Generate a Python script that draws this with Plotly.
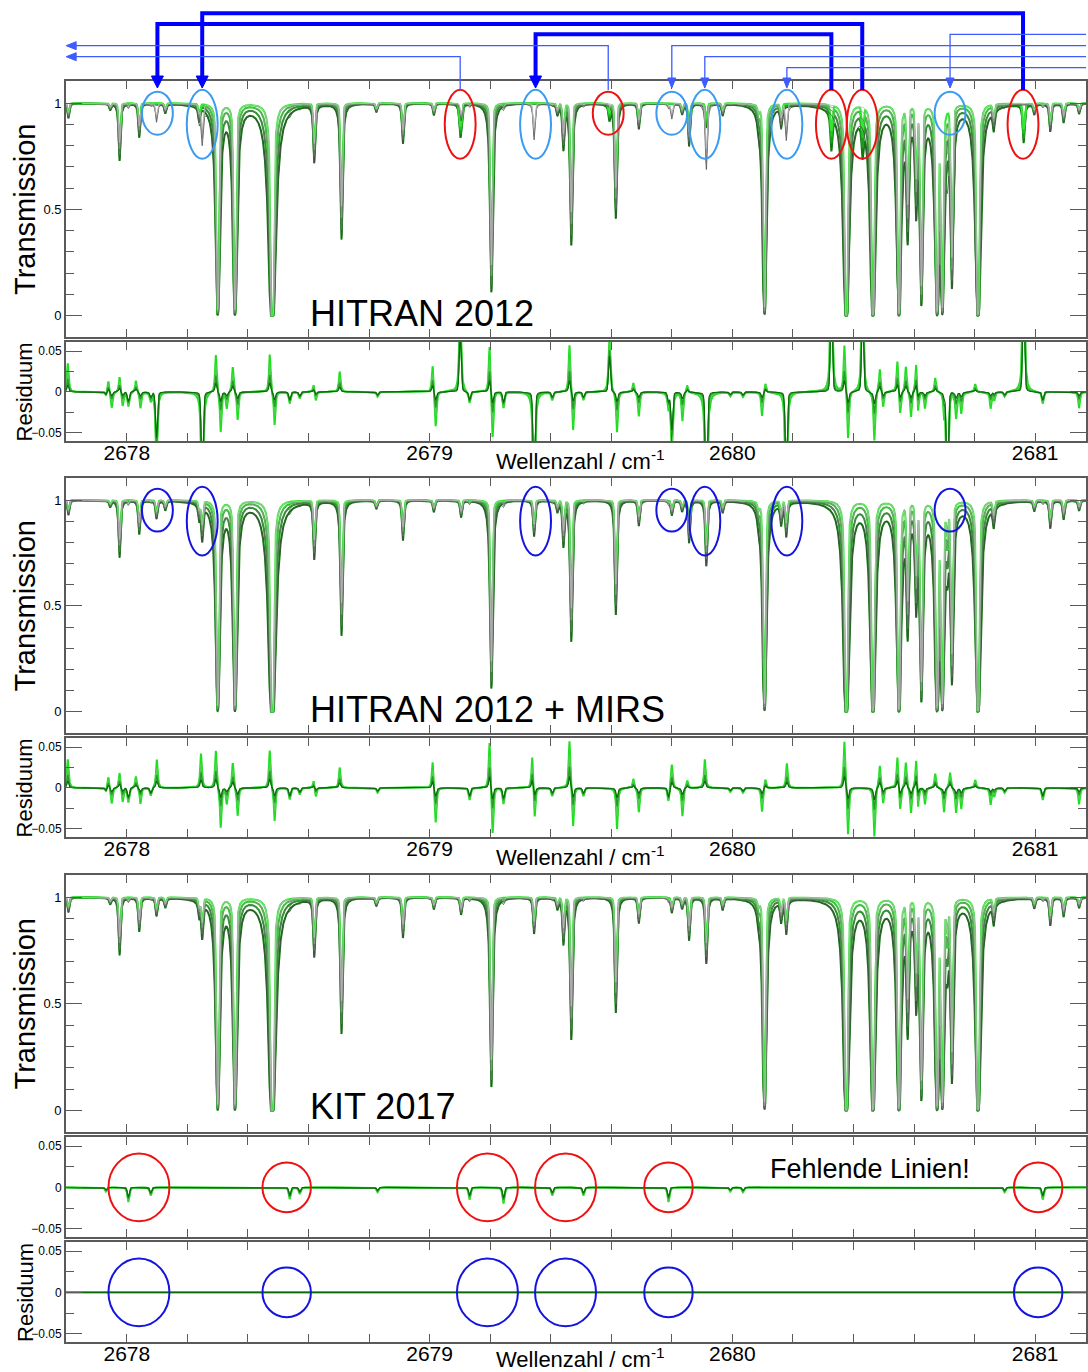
import numpy as np
import plotly.graph_objects as go

W, H = 1088, 1372
FONT = "Liberation Sans, Arial, Helvetica, sans-serif"

# ---------------------------------------------------------------- data
# measured absorption lines: centre / cm-1 and peak optical depth (widest spectrum)
LINE_POS = [2677.807, 2677.945, 2677.976, 2678.041, 2678.098, 2678.127, 2678.239,
            2678.249, 2678.300, 2678.357, 2678.480, 2678.619, 2678.709, 2678.824,
            2678.912, 2679.014, 2679.104, 2679.204, 2679.345, 2679.422, 2679.442,
            2679.468, 2679.615, 2679.691, 2679.800, 2679.834, 2679.857, 2679.914,
            2679.968, 2680.086, 2680.106, 2680.161, 2680.178, 2680.376, 2680.464,
            2680.550, 2680.579, 2680.607, 2680.624, 2680.676, 2680.693, 2680.710,
            2680.725, 2680.811, 2680.863, 2680.997, 2681.050, 2681.094, 2681.145]
LINE_TAU = [0.073, 0.030, 0.315, 0.174, 0.089, 0.046, 0.073,
            0.186, 5.5, 5.5, 17.0, 0.32, 1.02, 0.040,
            0.21, 0.057, 0.083, 2.2, 0.186, 0.050, 0.236,
            1.1, 0.78, 0.128, 0.073, 0.050, 0.223, 0.37,
            0.057, 0.050, 5.0, 0.105, 0.174, 11.0, 9.0,
            7.0, 0.97, 0.64, 3.0, 6.0, 5.0, 0.22,
            1.97, 9.0, 0.105, 0.050, 0.14, 0.094, 0.050]

# weak lines absent from HITRAN 2012, MIRS and KIT 2017
MISSING_POS = [2677.931, 2678.005, 2678.079, 2678.538, 2678.571, 2678.828, 2679.132,
               2679.244, 2679.405, 2679.508, 2679.789, 2679.993, 2680.035, 2680.899,
               2681.025]
MISSING_TAU = [0.005, 0.018, 0.010, 0.015, 0.008, 0.006, 0.015,
               0.020, 0.010, 0.010, 0.018, 0.005, 0.006, 0.006,
               0.015]

# HITRAN 2012 compared with the measurement: optical depth added (+) / lacking (-)
HIT_POS = [2678.098, 2678.249, 2679.345, 2679.800, 2679.914, 2680.178, 2680.710,
           2679.101, 2679.594, 2680.327, 2680.430, 2680.962]
HIT_DTAU = [-0.089, -0.186, -0.186, -0.073, -0.25, -0.174, -0.22,
            0.12, 0.07, 0.20, 0.18, 0.20]

# residual structure of the strong lines left by the HITRAN and MIRS fits
FIT_POS = [2677.805, 2677.939, 2677.950, 2677.976, 2677.986, 2678.030, 2678.045,
           2678.294, 2678.310, 2678.330, 2678.350, 2678.366, 2678.472, 2678.488,
           2678.617, 2678.624, 2678.703, 2679.010, 2679.020, 2679.198, 2679.208,
           2679.462, 2679.474, 2679.619, 2679.673, 2679.691, 2679.835, 2679.851,
           2680.098, 2680.109, 2680.370, 2680.382, 2680.469, 2680.487, 2680.498,
           2680.545, 2680.554, 2680.573, 2680.590, 2680.607, 2680.613, 2680.636,
           2680.670, 2680.699, 2680.739, 2680.756, 2680.802, 2680.853, 2680.865,
           2681.145]
FIT_AMP = [0.035, 0.015, -0.020, 0.020, -0.018, 0.015, -0.020,
           0.047, -0.050, -0.020, 0.032, -0.035, 0.047, -0.042,
           0.010, -0.012, 0.025, 0.035, -0.045, 0.060, -0.060,
           0.060, -0.050, -0.050, 0.012, -0.030, -0.035, 0.010,
           -0.030, 0.012, 0.060, -0.060, -0.060, 0.030, -0.020,
           0.040, -0.030, 0.032, -0.032, 0.040, -0.030, -0.020,
           0.018, -0.030, -0.030, -0.025, 0.010, -0.020, -0.010,
           -0.020]

# extra structure of the MIRS lines
MIRS_POS = [2678.099, 2678.245, 2679.339, 2679.347, 2679.800, 2679.909, 2680.180, 2680.719]
MIRS_AMP = [0.035, 0.042, 0.042, -0.040, 0.030, 0.035, 0.030, 0.020]

# four spectra (pressures): pseudo-Voigt profile parameters
GAMMA_L = 0.0035                     # Lorentz half width / cm-1
SIGMA_D = 0.0036                     # Doppler half width / cm-1
ETA = [0.85, 0.58, 0.36, 0.20]       # Lorentz fraction of each spectrum
SCALE = [1.00, 0.88, 0.76, 0.65]     # optical depth scaling of each spectrum
RES_SCALE = [1.00, 0.70, 0.45, 0.25]

X_RANGE = [2677.7987, 2681.168]
X_TICKS = [2678, 2679, 2680, 2681]
X_TICKTEXT = ["2678", "2679", "2680", "2681"]
T_TICKS = [0, 0.5, 1]
T_TICKTEXT = ["0", "0.5", "1"]
R_TICKS = [-0.05, 0, 0.05]
R_TICKTEXT = ["\u22120.05", "0", "0.05"]

# encircled lines: centre / cm-1, "s" small or "l" large ellipse
BLUE_LINES = [2678.101, 2678.249, 2679.350, 2679.800, 2679.909, 2680.180, 2680.719]
BLUE_SIZE = ["s", "l", "l", "s", "l", "l", "s"]
RED_LINES = [2679.101, 2679.590, 2680.327, 2680.429, 2680.960]
RED_SIZE = ["l", "s", "l", "l", "l"]
GAP_LINES = [2678.040, 2678.528, 2679.191, 2679.449, 2679.789, 2681.010]
GAP_SIZE = ["l", "s", "l", "l", "s", "s"]

# line reassignments HITRAN position -> observed position
MOVE_FROM = [2680.960, 2680.429, 2680.327]
MOVE_TO = [2678.249, 2678.101, 2679.350]
OUT_LEFT_FROM = [2679.590, 2679.101]
IN_RIGHT_TO = [2680.719, 2679.800, 2679.909, 2680.180]

# ---------------------------------------------------------------- spectra
nu = np.arange(2677.79, 2681.18, 0.0005)
LN2 = np.log(2.0)


def profile_sum(pos, amp, eta):
    p = np.asarray(pos, dtype=float)[:, None]
    a = np.asarray(amp, dtype=float)[:, None]
    d2 = (nu[None, :] - p) ** 2
    lor = GAMMA_L ** 2 / (d2 + GAMMA_L ** 2)
    gau = np.exp(-LN2 * d2 / SIGMA_D ** 2)
    return (a * (eta * lor + (1 - eta) * gau)).sum(axis=0)


def spikes(pos, amp, width=0.003):
    p = np.asarray(pos, dtype=float)[:, None]
    a = np.asarray(amp, dtype=float)[:, None]
    return (a * width ** 2 / ((nu[None, :] - p) ** 2 + width ** 2)).sum(axis=0)


meas, hit, mirs, kit = [], [], [], []
for eta, s in zip(ETA, SCALE):
    tau_obs = profile_sum(LINE_POS, LINE_TAU, eta)
    tau_gap = profile_sum(MISSING_POS, MISSING_TAU, eta)
    tau_hit = np.clip(tau_obs + profile_sum(HIT_POS, HIT_DTAU, eta), 0, None)
    meas.append(np.exp(-s * (tau_obs + tau_gap)))
    hit.append(np.exp(-s * tau_hit))
    mirs.append(np.exp(-s * tau_obs))
    kit.append(np.exp(-s * tau_obs))

fit_err = spikes(FIT_POS, FIT_AMP)
mirs_err = spikes(MIRS_POS, MIRS_AMP)

res_hit = [meas[k] - hit[k] + RES_SCALE[k] * fit_err for k in range(4)]
res_mirs = [meas[k] - mirs[k] + RES_SCALE[k] * (fit_err + mirs_err) for k in range(4)]
res_kit = [meas[k] - kit[k] for k in range(4)]
res_kit_full = [meas[k] - meas[k] for k in range(4)]

GRAY = ["#4a4a4a", "#6e6e6e", "#969696", "#bcbcbc"]
GREEN = ["#0d7a0d", "#1f9a1f", "#22c422", "#33e633"]
RES_GREEN = ["#1fe01f", "#4fcf4f", "#2b9a2b", "#0a6a0a"]

fig = go.Figure()


def ax_names(i):
    return ("x" if i == 1 else f"x{i}"), ("y" if i == 1 else f"y{i}")


def add_transmission(i, models):
    xa, ya = ax_names(i)
    for k in range(4):
        fig.add_trace(go.Scatter(x=nu, y=models[k].astype(np.float32), mode="lines",
                                 line=dict(color=GREEN[k], width=2.0),
                                 xaxis=xa, yaxis=ya, hoverinfo="skip"))
    for k in range(4):
        fig.add_trace(go.Scatter(x=nu, y=meas[k].astype(np.float32), mode="lines",
                                 line=dict(color=GRAY[k], width=0.8),
                                 xaxis=xa, yaxis=ya, hoverinfo="skip"))


def add_residual(i, res):
    xa, ya = ax_names(i)
    for k in range(4):
        fig.add_trace(go.Scatter(x=nu, y=res[k].astype(np.float32), mode="lines",
                                 line=dict(color=RES_GREEN[k], width=2.0 - 0.3 * k),
                                 xaxis=xa, yaxis=ya, hoverinfo="skip"))


add_transmission(1, hit)
add_residual(2, res_hit)
add_transmission(3, mirs)
add_residual(4, res_mirs)
add_transmission(5, kit)
add_residual(6, res_kit)
add_residual(7, res_kit_full)

# ---------------------------------------------------------------- layout


def py(p):
    """paper y of a pixel row counted from the top"""
    return 1 - p / H


# panel frames (pixel rows, top / bottom)
FRAMES = [(81, 337), (342, 441), (478, 733), (738, 837), (875, 1132), (1137, 1237), (1242, 1342)]
KIND = ["T", "R", "T", "R", "T", "R", "R"]
XLABELS = [False, True, False, True, False, False, True]

AXCOL = "#5a5a5a"
layout = dict(width=W, height=H, margin=dict(l=0, r=0, t=0, b=0),
              paper_bgcolor="white", plot_bgcolor="white", showlegend=False,
              font=dict(family=FONT, color="black"))

for i, ((top, bot), kind, lab) in enumerate(zip(FRAMES, KIND, XLABELS), start=1):
    xn = "xaxis" if i == 1 else f"xaxis{i}"
    yn = "yaxis" if i == 1 else f"yaxis{i}"
    layout[xn] = dict(domain=[66 / W, 1], range=X_RANGE, anchor=ax_names(i)[1],
                      showline=True, mirror="ticks", linecolor=AXCOL, linewidth=1.5,
                      ticks="inside", ticklen=8, tickwidth=1.2, tickcolor=AXCOL,
                      tickvals=X_TICKS, ticktext=X_TICKTEXT, showticklabels=lab,
                      ticklabelstandoff=-8,
                      tickfont=dict(size=21, family=FONT, color="black"),
                      showgrid=False, zeroline=False,
                      minor=dict(ticks="inside", ticklen=8, tickwidth=1.2, tickcolor=AXCOL,
                                 dtick=0.2, tick0=2678, showgrid=False))
    if kind == "T":
        yr, tv, tt, mdt, fs = [-0.1, 1.104], T_TICKS, T_TICKTEXT, 0.1, 13
    else:
        yr, tv, tt, mdt, fs = [-0.06, 0.061], R_TICKS, R_TICKTEXT, 0.025, 12
    layout[yn] = dict(domain=[py(bot), py(top)], range=yr, anchor=ax_names(i)[0],
                      showline=True, mirror="ticks", linecolor=AXCOL, linewidth=1.5,
                      ticks="inside", ticklen=16, tickwidth=1.2, tickcolor=AXCOL,
                      tickvals=tv, ticktext=tt,
                      tickfont=dict(size=fs, family=FONT, color="black"),
                      showgrid=False, zeroline=False,
                      minor=dict(ticks="inside", ticklen=8, tickwidth=1.2, tickcolor=AXCOL,
                                 dtick=mdt, tick0=0, showgrid=False))

fig.update_layout(**layout)

shapes = []
ELL_RX = 0.051
ELL_Y = {"s": (0.851, 1.053), "l": (0.738, 1.063)}


def ellipse(xc, size, color, xr, yr):
    y0, y1 = ELL_Y[size]
    return dict(type="circle", xref=xr, yref=yr, x0=xc - ELL_RX, x1=xc + ELL_RX,
                y0=y0, y1=y1, line=dict(color=color, width=2), layer="above")


for xc, sz in zip(BLUE_LINES, BLUE_SIZE):
    shapes.append(ellipse(xc, sz, "#3a9bf0", "x", "y"))
    shapes.append(ellipse(xc, sz, "#1414e0", "x3", "y3"))
for xc, sz in zip(RED_LINES, RED_SIZE):
    shapes.append(ellipse(xc, sz, "#ee1111", "x", "y"))

GAP_R = {"s": (0.080, 0.030), "l": (0.1007, 0.041)}
for xc, sz in zip(GAP_LINES, GAP_SIZE):
    rx, ry = GAP_R[sz]
    for xr, yr, col in (("x6", "y6", "#ee1111"), ("x7", "y7", "#1414e0")):
        shapes.append(dict(type="circle", xref=xr, yref=yr, x0=xc - rx, x1=xc + rx,
                           y0=-ry, y1=ry, line=dict(color=col, width=2), layer="above"))

# reassignment arrows above the first panel
PX = 1 / 303.0            # one pixel in cm-1
Y_START = py(90)          # top of the red ellipses
Y_TIP = py(88)
THICK_ROWS = [py(13.3), py(24), py(34.3)]
LEFT_ROWS = [py(45.7), py(56.7)]
RIGHT_ROWS = [py(34.3), py(45.7), py(56.7), py(67.7)]
THICK_COL, THIN_COL = "#0000ff", "#3d5cff"


def down_head(x, w_px, h_px, col):
    yb = Y_TIP + h_px / H
    return dict(type="path", xref="x", yref="paper",
                path=f"M{x - w_px * PX},{yb} L{x + w_px * PX},{yb} L{x},{Y_TIP} Z",
                fillcolor=col, line=dict(color=col, width=1), layer="above")


for xf, xt, row in zip(MOVE_FROM, MOVE_TO, THICK_ROWS):
    yb = Y_TIP + 11 / H
    shapes.append(dict(type="path", xref="x", yref="paper",
                       path=f"M{xf},{Y_START} L{xf},{row} L{xt},{row} L{xt},{yb}",
                       line=dict(color=THICK_COL, width=4), layer="above"))
    shapes.append(down_head(xt, 6, 12, THICK_COL))

x_left = X_RANGE[0] + 0.3 * PX
for xf, row in zip(OUT_LEFT_FROM, LEFT_ROWS):
    shapes.append(dict(type="path", xref="x", yref="paper",
                       path=f"M{xf},{Y_START} L{xf},{row} L{x_left + 9 * PX},{row}",
                       line=dict(color=THIN_COL, width=1.3), layer="above"))
    shapes.append(dict(type="path", xref="x", yref="paper",
                       path=(f"M{x_left + 10 * PX},{row + 4 / H} L{x_left + 10 * PX},{row - 4 / H} "
                             f"L{x_left},{row} Z"),
                       fillcolor=THIN_COL, line=dict(color=THIN_COL, width=1), layer="above"))

x_right = X_RANGE[1]
for xt, row in zip(IN_RIGHT_TO, RIGHT_ROWS):
    yb = Y_TIP + 9 / H
    shapes.append(dict(type="path", xref="x", yref="paper",
                       path=f"M{x_right},{row} L{xt},{row} L{xt},{yb}",
                       line=dict(color=THIN_COL, width=1.3), layer="above"))
    shapes.append(down_head(xt, 4, 10, THIN_COL))

fig.update_layout(shapes=shapes)

ann = []
for ref, txt, yv in (("y", "HITRAN 2012", 0.012), ("y3", "HITRAN 2012 + MIRS", 0.012),
                     ("y5", "KIT 2017", 0.02)):
    ann.append(dict(x=2678.598, y=yv, xref="x" if ref == "y" else "x" + ref[1:], yref=ref,
                    text=txt, showarrow=False, xanchor="left", yanchor="middle",
                    font=dict(size=36, family=FONT, color="black")))
ann.append(dict(x=2680.455, y=0.0226, xref="x6", yref="y6", text="Fehlende Linien!",
                showarrow=False, xanchor="center", yanchor="middle",
                font=dict(size=27, family=FONT, color="black")))
for xr, yp in (("x2", py(460)), ("x4", py(856)), ("x7", py(1358))):
    ann.append(dict(x=2679.498, y=yp, xref=xr, yref="paper",
                    text="Wellenzahl / cm<sup>-1</sup>", showarrow=False,
                    xanchor="center", yanchor="middle",
                    font=dict(size=22, family=FONT, color="black")))
for (top, bot) in (FRAMES[0], FRAMES[2], FRAMES[4]):
    ann.append(dict(x=25 / W, y=py((top + bot) / 2), xref="paper", yref="paper",
                    text="Transmission", textangle=-90, showarrow=False,
                    xanchor="center", yanchor="middle",
                    font=dict(size=29, family=FONT, color="black")))
for (top, bot) in (FRAMES[1], FRAMES[3], FRAMES[6]):
    ann.append(dict(x=25 / W, y=py((top + bot) / 2), xref="paper", yref="paper",
                    text="Residuum", textangle=-90, showarrow=False,
                    xanchor="center", yanchor="middle",
                    font=dict(size=22, family=FONT, color="black")))
fig.update_layout(annotations=ann)

fig.write_html("out.html", config={"displayModeBar": False})
